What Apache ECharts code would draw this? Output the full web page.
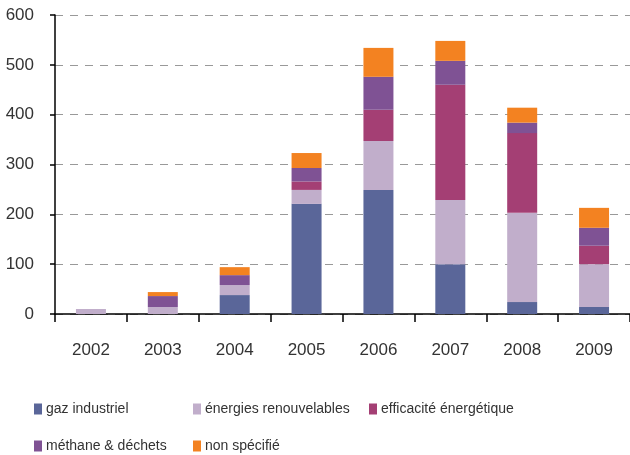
<!DOCTYPE html>
<html>
<head>
<meta charset="utf-8">
<script src="https://cdn.jsdelivr.net/npm/echarts@6/dist/echarts.min.js"></script>
<style>
html,body{margin:0;padding:0;background:#fff;}
#c{width:630px;height:455px;}
</style>
</head>
<body>
<div id="c"></div>
<script>
const categories = ['2002','2003','2004','2005','2006','2007','2008','2009'];
const gazIndustriel = [0, 0, 38, 221, 249, 100, 24, 14];
const energiesRenouvelables = [10, 14, 20, 28, 98, 129, 179, 86];
const efficaciteEnergetique = [0, 0, 0, 17, 63, 231, 160, 37];
const methaneDechets = [0, 22, 20, 27, 66, 48, 21, 36];
const nonSpecifie = [0, 8, 16, 30, 58, 40, 30, 40];
const yTicks = [0, 100, 200, 300, 400, 500, 600];

const FONT = "'Liberation Sans', Arial, sans-serif";
const seriesDefs = [
  {name: 'gaz industriel', data: gazIndustriel, color: '#5a6699'},
  {name: 'énergies renouvelables', data: energiesRenouvelables, color: '#c1aecb'},
  {name: 'efficacité énergétique', data: efficaciteEnergetique, color: '#a43f74'},
  {name: 'méthane & déchets', data: methaneDechets, color: '#7f5294'},
  {name: 'non spécifié', data: nonSpecifie, color: '#f38221'}
];
const legendPos = [
  {left: 34, top: 402},
  {left: 193, top: 402},
  {left: 369, top: 402},
  {left: 34, top: 439},
  {left: 193, top: 439}
];

const chart = echarts.init(document.getElementById('c'), null, {renderer: 'canvas'});
chart.setOption({
  animation: false,
  backgroundColor: '#ffffff',
  grid: {left: 55, right: -7, top: 15, bottom: 141, containLabel: false},
  legend: seriesDefs.map((s, i) => ({
    data: [s.name],
    left: legendPos[i].left,
    top: legendPos[i].top,
    padding: 0,
    itemWidth: 8,
    itemHeight: 11,
    itemGap: 0,
    icon: 'rect',
    textStyle: {fontFamily: FONT, fontSize: 14, color: '#333', padding: [0, 0, 0, -1]},
    selectedMode: false
  })),
  xAxis: {
    type: 'category',
    data: categories,
    boundaryGap: true,
    axisLine: {lineStyle: {color: '#000', width: 1.5}},
    axisTick: {show: true, length: 8, alignWithLabel: false, lineStyle: {color: '#000', width: 1.5}},
    axisLabel: {margin: 28, fontFamily: FONT, fontSize: 17, color: '#333'},
    splitLine: {show: false}
  },
  yAxis: {
    type: 'value',
    min: yTicks[0],
    max: yTicks[yTicks.length - 1],
    interval: 100,
    axisLine: {show: true, lineStyle: {color: '#000', width: 1.5}},
    axisTick: {show: true, length: 5, lineStyle: {color: '#000', width: 1.5}},
    axisLabel: {margin: 21, fontFamily: FONT, fontSize: 17, color: '#333'},
    splitLine: {show: true, lineStyle: {color: '#999', type: [8, 7], width: 1.2}}
  },
  series: seriesDefs.map(s => ({
    name: s.name,
    type: 'bar',
    stack: 'total',
    barWidth: 30,
    data: s.data,
    itemStyle: {color: s.color},
    emphasis: {disabled: true}
  }))
});
</script>
</body>
</html>
